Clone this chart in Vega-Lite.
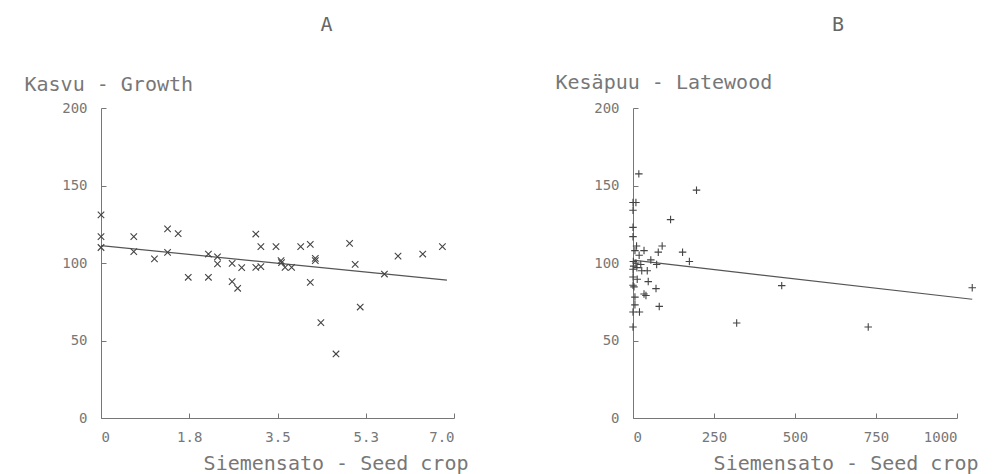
{
  "$schema": "https://vega.github.io/schema/vega-lite/v6.json",
  "background": "white",
  "padding": {"left": 24, "top": 15, "right": 5, "bottom": 5},
  "bounds": "flush",
  "spacing": 179,
  "config": {
    "view": {"stroke": null},
    "font": "DejaVu Sans Mono",
    "axis": {
      "grid": false,
      "domainColor": "#777",
      "tickColor": "#777",
      "tickSize": -5,
      "labelFont": "DejaVu Sans Mono",
      "labelFontSize": 14,
      "labelColor": "#777",
      "titleFont": "DejaVu Sans Mono",
      "titleFontSize": 20,
      "titleFontWeight": "normal",
      "titleColor": "#777"
    },
    "title": {"font": "DejaVu Sans Mono", "fontSize": 20, "fontWeight": "normal", "color": "#666"}
  },
  "datasets": {
    "growth": [
      {"seed": 0, "growth": 131}, {"seed": 0, "growth": 117}, {"seed": 0, "growth": 110},
      {"seed": 0.65, "growth": 117}, {"seed": 0.65, "growth": 107.3}, {"seed": 1.06, "growth": 102.6},
      {"seed": 1.32, "growth": 122}, {"seed": 1.32, "growth": 106.9}, {"seed": 1.53, "growth": 119},
      {"seed": 1.73, "growth": 90.8}, {"seed": 2.13, "growth": 105.8}, {"seed": 2.13, "growth": 90.8},
      {"seed": 2.31, "growth": 104}, {"seed": 2.31, "growth": 99.4}, {"seed": 2.6, "growth": 99.8},
      {"seed": 2.6, "growth": 88}, {"seed": 2.71, "growth": 83.7}, {"seed": 2.79, "growth": 97},
      {"seed": 3.07, "growth": 118.7}, {"seed": 3.07, "growth": 97.2}, {"seed": 3.17, "growth": 110.5},
      {"seed": 3.17, "growth": 97.6}, {"seed": 3.47, "growth": 110.5}, {"seed": 3.57, "growth": 101.5},
      {"seed": 3.58, "growth": 100.2}, {"seed": 3.65, "growth": 97.2}, {"seed": 3.78, "growth": 97.2},
      {"seed": 3.96, "growth": 110.5}, {"seed": 4.15, "growth": 112}, {"seed": 4.15, "growth": 87.5},
      {"seed": 4.25, "growth": 103}, {"seed": 4.25, "growth": 101.5}, {"seed": 4.36, "growth": 61.5},
      {"seed": 4.66, "growth": 41.3}, {"seed": 4.93, "growth": 112.7}, {"seed": 5.04, "growth": 99.1},
      {"seed": 5.14, "growth": 71.6}, {"seed": 5.62, "growth": 92.9}, {"seed": 5.89, "growth": 104.5},
      {"seed": 6.38, "growth": 105.8}, {"seed": 6.77, "growth": 110.5}
    ],
    "growthLine": [{"seed": 0, "growth": 111.2}, {"seed": 6.86, "growth": 89}],
    "latewood": [
      {"seed": 18, "late": 157.5}, {"seed": 0, "late": 139}, {"seed": 9, "late": 139},
      {"seed": 0, "late": 134}, {"seed": 0, "late": 123}, {"seed": 0, "late": 117},
      {"seed": 196, "late": 147}, {"seed": 116, "late": 128}, {"seed": 11, "late": 111},
      {"seed": 34, "late": 108}, {"seed": 90, "late": 111}, {"seed": 78, "late": 107},
      {"seed": 153, "late": 107}, {"seed": 174, "late": 101}, {"seed": 6, "late": 108},
      {"seed": 19, "late": 105}, {"seed": 55, "late": 102}, {"seed": 1, "late": 101},
      {"seed": 9, "late": 100}, {"seed": 24, "late": 99}, {"seed": 73, "late": 99},
      {"seed": 2, "late": 98}, {"seed": 12, "late": 97}, {"seed": 0, "late": 96},
      {"seed": 27, "late": 95}, {"seed": 44, "late": 95}, {"seed": 0, "late": 91},
      {"seed": 13, "late": 89.5}, {"seed": 47, "late": 88}, {"seed": 0, "late": 85.6},
      {"seed": 3, "late": 84.6}, {"seed": 71, "late": 83.5}, {"seed": 6, "late": 78},
      {"seed": 34, "late": 80}, {"seed": 40, "late": 79}, {"seed": 6, "late": 73},
      {"seed": 81, "late": 72}, {"seed": 0, "late": 68.4}, {"seed": 20, "late": 68.4},
      {"seed": 0, "late": 58.7}, {"seed": 320, "late": 61.3}, {"seed": 459, "late": 85.4},
      {"seed": 726, "late": 58.7}, {"seed": 1047, "late": 84}
    ],
    "lateLine": [{"seed": 0, "late": 101.8}, {"seed": 1047, "late": 76.6}]
  },
  "hconcat": [
    {
      "width": 353,
      "height": 310,
      "title": {"text": "A", "anchor": "middle", "frame": "group", "dx": 49, "offset": 39},
      "layer": [
        {
          "data": {"name": "growthLine"},
          "mark": {"type": "line", "color": "#555", "strokeWidth": 1.2, "clip": false},
          "encoding": {
            "x": {"field": "seed", "type": "quantitative"},
            "y": {"field": "growth", "type": "quantitative"}
          }
        },
        {
          "data": {"name": "growth"},
          "mark": {"type": "point", "shape": "M-1,-1L1,1M-1,1L1,-1", "filled": false, "size": 42, "stroke": "#444", "strokeWidth": 1.1, "opacity": 1, "clip": false},
          "encoding": {
            "x": {
              "field": "seed", "type": "quantitative",
              "scale": {"domain": [0, 7], "nice": false},
              "axis": {
                "values": [0, 1.75, 3.5, 5.25, 7],
                "labelExpr": "datum.value == 0 ? '0' : format(datum.value, '.1f')",
                "labelPadding": 17,
                "title": "Siemensato - Seed crop",
                "titleAnchor": "end", "titleAlign": "right", "titleBaseline": "alphabetic",
                "titleX": 367, "titleY": 51
              }
            },
            "y": {
              "field": "growth", "type": "quantitative",
              "scale": {"domain": [0, 200], "nice": false},
              "axis": {
                "values": [0, 50, 100, 150, 200],
                "labelPadding": 19,
                "title": "Kasvu - Growth",
                "titleAngle": 0, "titleAlign": "left", "titleBaseline": "alphabetic",
                "titleX": -77, "titleY": -18
              }
            }
          }
        }
      ]
    },
    {
      "width": 324,
      "height": 310,
      "title": {"text": "B", "anchor": "middle", "frame": "group", "dx": 43, "offset": 37},
      "layer": [
        {
          "data": {"name": "lateLine"},
          "mark": {"type": "line", "color": "#555", "strokeWidth": 1.2, "clip": false},
          "encoding": {
            "x": {"field": "seed", "type": "quantitative"},
            "y": {"field": "late", "type": "quantitative"}
          }
        },
        {
          "data": {"name": "latewood"},
          "mark": {"type": "point", "shape": "M-1,0L1,0M0,-1L0,1", "filled": false, "size": 56, "stroke": "#444", "strokeWidth": 1.1, "opacity": 1, "clip": false},
          "encoding": {
            "x": {
              "field": "seed", "type": "quantitative",
              "scale": {"domain": [0, 1000], "nice": false},
              "axis": {
                "values": [0, 250, 500, 750, 1000],
                "format": "d",
                "labelPadding": 17,
                "title": "Siemensato - Seed crop",
                "titleAnchor": "end", "titleAlign": "right", "titleBaseline": "alphabetic",
                "titleX": 345, "titleY": 51
              }
            },
            "y": {
              "field": "late", "type": "quantitative",
              "scale": {"domain": [0, 200], "nice": false},
              "axis": {
                "values": [0, 50, 100, 150, 200],
                "labelPadding": 19,
                "title": "Kesäpuu - Latewood",
                "titleAngle": 0, "titleAlign": "left", "titleBaseline": "alphabetic",
                "titleX": -78, "titleY": -20
              }
            }
          }
        }
      ]
    }
  ]
}
